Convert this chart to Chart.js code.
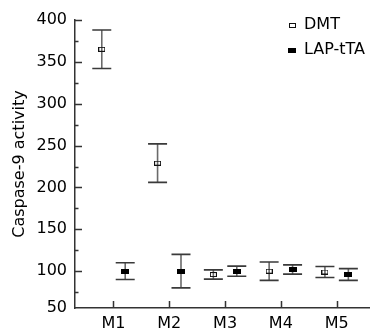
<!DOCTYPE html>
<html><head><meta charset="utf-8">
<script src="https://cdn.jsdelivr.net/npm/chart.js@4.4.1/dist/chart.umd.min.js"></script>
<style>html,body{margin:0;padding:0;background:#fff}#wrap{width:374px;height:334px;position:relative}</style>
</head><body><div id="wrap"><canvas id="c" width="374" height="334"></canvas></div>
<script>
// ---- data ----
const categories = ['M1', 'M2', 'M3', 'M4', 'M5'];
const seriesNames = ['DMT', 'LAP-tTA'];
const dmtMean  = [365, 229, 96, 100, 99];
const dmtError = [23, 23, 5.5, 11, 6.5];
const lapMean  = [100, 100, 100, 102, 96];
const lapError = [10, 20, 6, 5.5, 7];
const yTickLabels = ['50', '100', '150', '200', '250', '300', '350', '400'];
const yTickValues = [50, 100, 150, 200, 250, 300, 350, 400];
const yMinorValues = [75, 125, 175, 225, 275, 325, 375];

// ---- styling ----
const FONT = 'DejaVu Sans';
const Y_MIN = 56, Y_MAX = 400;
const X_MIN = 0.31, X_MAX = 5.58;
const GROUP_OFFSET = 0.21;
const CAP_HALF = 9.5;
const AXIS_COLOR = '#333';

function markerCanvas(w, h, filled) {
  const c = document.createElement('canvas');
  c.width = w; c.height = h;
  const g = c.getContext('2d');
  if (filled) { g.fillStyle = '#000'; g.fillRect(0, 0, w, h); }
  else { g.strokeStyle = '#111'; g.lineWidth = 1; g.strokeRect(0.5, 0.5, w - 1, h - 1); }
  return c;
}
const openMarker = markerCanvas(7, 5, false);
const filledMarker = markerCanvas(8, 5, true);

const datasets = [
  { label: seriesNames[0], errors: dmtError, marker: openMarker,
    data: dmtMean.map((v, i) => ({ x: i + 1 - GROUP_OFFSET, y: v })) },
  { label: seriesNames[1], errors: lapError, marker: filledMarker,
    data: lapMean.map((v, i) => ({ x: i + 1 + GROUP_OFFSET, y: v })) }
].map(d => Object.assign(d, { pointStyle: d.marker, showLine: false, pointRadius: 4 }));

const errorBars = {
  id: 'errorBars',
  beforeDatasetsDraw(chart) {
    const ctx = chart.ctx, xs = chart.scales.x, ys = chart.scales.y;
    ctx.save();
    chart.data.datasets.forEach(ds => {
      ds.data.forEach((p, i) => {
        const px = xs.getPixelForValue(p.x);
        const top = ys.getPixelForValue(p.y + ds.errors[i]);
        const bot = ys.getPixelForValue(p.y - ds.errors[i]);
        ctx.strokeStyle = '#6a6a6a'; ctx.lineWidth = 1.6;
        ctx.beginPath(); ctx.moveTo(px, top); ctx.lineTo(px, bot); ctx.stroke();
        ctx.strokeStyle = '#3a3a3a'; ctx.lineWidth = 1.6;
        ctx.beginPath();
        ctx.moveTo(px - CAP_HALF, top); ctx.lineTo(px + CAP_HALF, top);
        ctx.moveTo(px - CAP_HALF, bot); ctx.lineTo(px + CAP_HALF, bot);
        ctx.stroke();
      });
    });
    ctx.restore();
  }
};

const inwardTicks = {
  id: 'inwardTicks',
  afterDraw(chart) {
    const ctx = chart.ctx, xs = chart.scales.x, ys = chart.scales.y, a = chart.chartArea;
    ctx.save();
    ctx.strokeStyle = AXIS_COLOR; ctx.lineWidth = 1.5;
    ctx.beginPath();
    yTickValues.forEach(v => {
      if (v <= Y_MIN) return;
      const py = Math.round(ys.getPixelForValue(v)) + 0.5;
      ctx.moveTo(a.left, py); ctx.lineTo(a.left + 7, py);
    });
    yMinorValues.forEach(v => {
      const py = Math.round(ys.getPixelForValue(v)) + 0.5;
      ctx.moveTo(a.left, py); ctx.lineTo(a.left + 3.5, py);
    });
    categories.forEach((c, i) => {
      const px = Math.round(xs.getPixelForValue(i + 1)) + 0.5;
      ctx.moveTo(px, a.bottom); ctx.lineTo(px, a.bottom - 7);
    });
    ctx.stroke();
    // legend
    const lx = a.right - 77;
    ctx.font = '16px "' + FONT + '"';
    ctx.fillStyle = '#000';
    ctx.textBaseline = 'middle';
    chart.data.datasets.forEach((ds, i) => {
      const ly = 25 + i * 25;
      const m = ds.marker;
      ctx.drawImage(m, Math.round(lx - m.width / 2), Math.round(ly - m.height / 2));
      ctx.fillText(ds.label, lx + 12, ly);
    });
    ctx.restore();
  }
};

new Chart(document.getElementById('c'), {
  type: 'scatter',
  data: { datasets },
  plugins: [errorBars, inwardTicks],
  options: {
    responsive: false,
    animation: false,
    layout: { padding: { top: 20, right: 1, left: 0, bottom: 0 } },
    plugins: { legend: { display: false }, tooltip: { enabled: false } },
    scales: {
      x: {
        type: 'linear', min: X_MIN, max: X_MAX,
        grid: { display: false, drawTicks: false },
        border: { display: true, color: AXIS_COLOR, width: 1.5 },
        afterBuildTicks: s => { s.ticks = categories.map((c, i) => ({ value: i + 1 })); },
        afterFit: s => { s.height = 26; s.paddingLeft = 0; s.paddingRight = 0; },
        ticks: {
          autoSkip: false, padding: 6, color: '#000',
          font: { family: FONT, size: 16 },
          callback: (v, i) => categories[i]
        }
      },
      y: {
        type: 'linear', min: Y_MIN, max: Y_MAX,
        grid: { display: false, drawTicks: false },
        border: { display: true, color: AXIS_COLOR, width: 1.5 },
        afterBuildTicks: s => { s.ticks = yTickValues.map(v => ({ value: Math.max(v, Y_MIN) })); },
        afterFit: s => { s.width = 75; s.paddingTop = 0; s.paddingBottom = 0; },
        ticks: {
          autoSkip: false, padding: 8, color: '#000',
          font: { family: FONT, size: 16 },
          callback: (v, i) => yTickLabels[i]
        },
        title: {
          display: true, text: 'Caspase-9 activity', color: '#000',
          font: { family: FONT, size: 16 }, padding: { top: 10, bottom: 0 }
        }
      }
    }
  }
});
</script>
</body></html>
